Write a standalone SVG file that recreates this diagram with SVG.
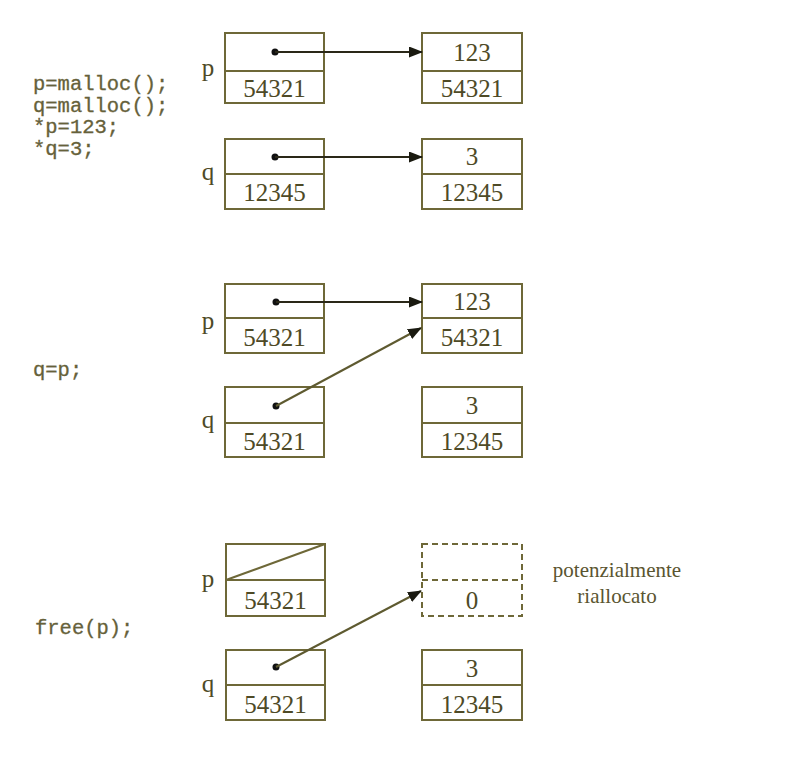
<svg xmlns="http://www.w3.org/2000/svg" width="796" height="772" viewBox="0 0 796 772">
<defs>
<style>
.box{fill:none;stroke:#6e6838;stroke-width:2}
.dash{fill:none;stroke:#6e6838;stroke-width:2;stroke-dasharray:6,4}
.num{font-family:"Liberation Serif",serif;font-size:25px;fill:#4e4a26;text-anchor:middle}
.var{font-family:"Liberation Serif",serif;font-size:25px;fill:#4e4a26;text-anchor:middle}
.code{font-family:"Liberation Mono",monospace;font-size:20.5px;fill:#66613a;stroke:#66613a;stroke-width:0.3}
.note{font-family:"Liberation Serif",serif;font-size:21px;fill:#5a5530;text-anchor:middle}
.ptr{stroke:#2a2818;stroke-width:2;fill:none}
.ptr2{stroke:#5e5a30;stroke-width:2;fill:none}
.dot{fill:#111}
</style>
<marker id="ah" markerWidth="14" markerHeight="11" refX="13" refY="5.5" orient="auto" markerUnits="userSpaceOnUse">
<path d="M0,0 L14,5.5 L0,11 Z" fill="#1a1a10"/>
</marker>
</defs>
<rect width="796" height="772" fill="#ffffff"/>

<g id="code1">
<text class="code" x="33" y="90">p=malloc();</text>
<text class="code" x="33" y="112">q=malloc();</text>
<text class="code" x="33" y="133">*p=123;</text>
<text class="code" x="33" y="155">*q=3;</text>
</g>
<g id="code2"><text class="code" x="33" y="376">q=p;</text></g>
<g id="code3"><text class="code" x="35" y="634">free(p);</text></g>

<!-- Section 1 -->
<g id="p1">
<text class="var" x="208" y="76">p</text>
<rect class="box" x="225" y="33" width="99" height="70"/>
<line class="box" x1="225" y1="71" x2="324" y2="71"/>
<circle class="dot" cx="275" cy="52" r="3.5"/>
<text class="num" x="274.5" y="97">54321</text>
</g>
<g id="heap1a">
<rect class="box" x="422" y="33" width="100" height="70"/>
<line class="box" x1="422" y1="71" x2="522" y2="71"/>
<text class="num" x="472" y="61">123</text>
<text class="num" x="472" y="97">54321</text>
</g>
<g id="q1">
<text class="var" x="208" y="180">q</text>
<rect class="box" x="225" y="139" width="99" height="70"/>
<line class="box" x1="225" y1="174" x2="324" y2="174"/>
<circle class="dot" cx="275" cy="157" r="3.5"/>
<text class="num" x="274.5" y="201">12345</text>
</g>
<g id="heap1b">
<rect class="box" x="422" y="139" width="100" height="70"/>
<line class="box" x1="422" y1="174" x2="522" y2="174"/>
<text class="num" x="472" y="165">3</text>
<text class="num" x="472" y="201">12345</text>
</g>

<!-- Section 2 -->
<g id="p2">
<text class="var" x="208" y="329">p</text>
<rect class="box" x="225" y="284" width="99" height="69"/>
<line class="box" x1="225" y1="318" x2="324" y2="318"/>
<circle class="dot" cx="276" cy="302" r="3.5"/>
<text class="num" x="274.5" y="346">54321</text>
</g>
<g id="heap2a">
<rect class="box" x="422" y="284" width="100" height="69"/>
<line class="box" x1="422" y1="318" x2="522" y2="318"/>
<text class="num" x="472" y="310">123</text>
<text class="num" x="472" y="346">54321</text>
</g>
<g id="q2">
<text class="var" x="208" y="428">q</text>
<rect class="box" x="225" y="387" width="99" height="70"/>
<line class="box" x1="225" y1="423" x2="324" y2="423"/>
<circle class="dot" cx="276" cy="406" r="3.5"/>
<text class="num" x="274.5" y="450">54321</text>
</g>
<g id="heap2b">
<rect class="box" x="422" y="387" width="100" height="70"/>
<line class="box" x1="422" y1="423" x2="522" y2="423"/>
<text class="num" x="472" y="414">3</text>
<text class="num" x="472" y="450">12345</text>
</g>

<!-- Section 3 -->
<g id="p3">
<text class="var" x="208" y="587">p</text>
<rect class="box" x="226" y="544" width="99" height="72"/>
<line class="box" x1="226" y1="580" x2="325" y2="580"/>
<line class="box" x1="226" y1="580" x2="325" y2="544"/>
<text class="num" x="275.5" y="609">54321</text>
</g>
<g id="heap3a">
<rect class="dash" x="422" y="544" width="100" height="72"/>
<line class="dash" x1="422" y1="580" x2="522" y2="580"/>
<text class="num" x="472" y="609">0</text>
</g>
<g id="note3">
<text class="note" x="617" y="577">potenzialmente</text>
<text class="note" x="617" y="603">riallocato</text>
</g>
<g id="q3">
<text class="var" x="208" y="692">q</text>
<rect class="box" x="226" y="650" width="99" height="70"/>
<line class="box" x1="226" y1="685" x2="325" y2="685"/>
<circle class="dot" cx="276" cy="667" r="3.5"/>
<text class="num" x="275.5" y="713">54321</text>
</g>
<g id="heap3b">
<rect class="box" x="422" y="650" width="100" height="70"/>
<line class="box" x1="422" y1="685" x2="522" y2="685"/>
<text class="num" x="472" y="677">3</text>
<text class="num" x="472" y="713">12345</text>
</g>

<g id="connectors">
<line class="ptr" x1="275" y1="52" x2="422" y2="52" marker-end="url(#ah)"/>
<line class="ptr" x1="275" y1="157" x2="422" y2="157" marker-end="url(#ah)"/>
<line class="ptr" x1="276" y1="302" x2="422" y2="302" marker-end="url(#ah)"/>
<line class="ptr2" x1="276" y1="406" x2="421" y2="328" marker-end="url(#ah)"/>
<line class="ptr2" x1="276" y1="667" x2="421" y2="591" marker-end="url(#ah)"/>
</g>
</svg>
